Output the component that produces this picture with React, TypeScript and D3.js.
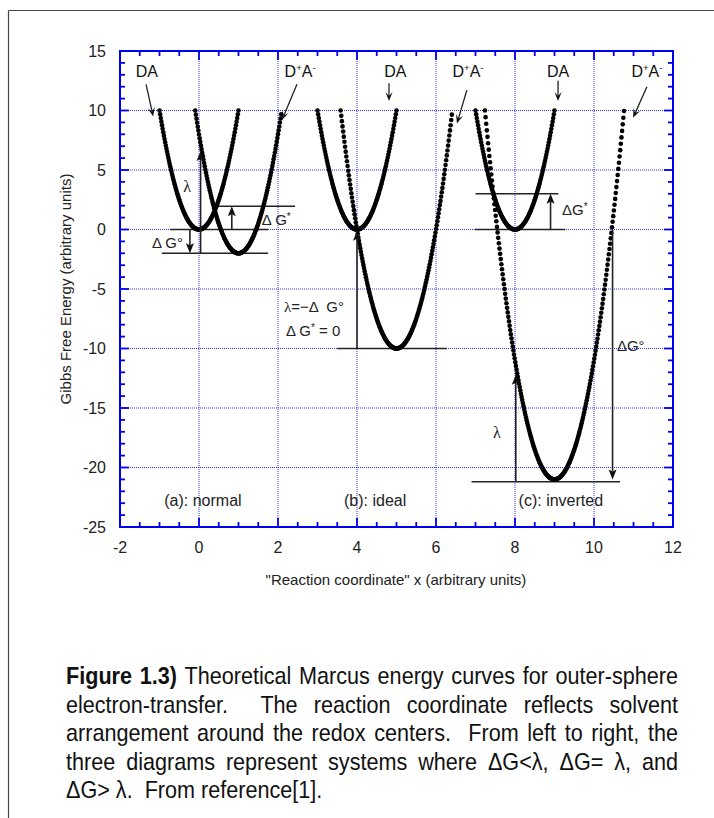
import React from "react";
import * as d3 from "d3";

const W = 714;
const H = 818;

// ---- axis ticks ----
const xTickValues = [-2, 0, 2, 4, 6, 8, 10, 12];
const yTickValues = [-25, -20, -15, -10, -5, 0, 5, 10, 15];
const xGridValues = [0, 2, 4, 6, 8, 10];
const yGridValues = [-20, -15, -10, -5, 0, 5, 10];

// ---- Marcus parabolas: G = lambda * (x - center)^2 + minimum ----
const curveIds = ["a-DA", "a-DpAm", "b-DA", "b-DpAm", "c-DA", "c-DpAm"];
const curveCenters = [0, 1, 4, 5, 8, 9];
const curveMinima = [0, -2, 0, -10, 0, -21];
const reorganization = 10; // lambda
const curveCeiling = 10;
const sampleStep = 0.016;

// ---- curve labels ----
const curveLabelKinds = ["DA", "DpAm", "DA", "DpAm", "DA", "DpAm"];

// ---- annotation values (data coordinates) ----
const levelLines = [
  { y: 0, x1: -0.73, x2: 1.75 },
  { y: -2, x1: -0.94, x2: 1.75 },
  { y: 1.95, x1: 0.4, x2: 2.43 },
  { y: -10, x1: 3.5, x2: 6.27 },
  { y: 3, x1: 7.0, x2: 9.1 },
  { y: 0, x1: 6.99, x2: 9.27 },
  { y: -21.2, x1: 6.9, x2: 10.66 },
];
const energyArrows = [
  { x: 0.04, from: -2, to: 6.6 },
  { x: 0.83, from: 0, to: 1.95 },
  { x: -0.23, from: 0, to: -2 },
  { x: 4, from: -10, to: -0.1 },
  { x: 8.9, from: 0, to: 3 },
  { x: 8.02, from: -21.2, to: -12.2 },
  { x: 10.47, from: 0, to: -21 },
];
const labelArrows = [
  { x1: -1.34, y1: 12.2, x2: -1.16, y2: 9.5 },
  { x1: 2.48, y1: 12.2, x2: 2.1, y2: 9.2 },
  { x1: 4.81, y1: 12.3, x2: 4.81, y2: 10.8 },
  { x1: 6.78, y1: 11.7, x2: 6.53, y2: 8.9 },
  { x1: 9.09, y1: 12.5, x2: 9.09, y2: 10.8 },
  { x1: 11.34, y1: 12.0, x2: 10.99, y2: 9.4 },
];
const curveLabelX = [-1.32, 2.56, 4.97, 6.81, 9.09, 11.34];
const curveLabelY = 13.3;

const panelNames = ["(a): normal", "(b): ideal", "(c): inverted"];
const panelNameX = [0.1, 4.46, 9.16];
const panelNameY = -22.73;

// caption
const captionBold = ["Figure", "1.3)"];
const captionLines = [
  "Figure 1.3) Theoretical Marcus energy curves for outer-sphere",
  "electron-transfer.  The reaction coordinate reflects solvent",
  "arrangement around the redox centers.  From left to right, the",
  "three diagrams represent systems where \u0394G<\u03bb, \u0394G= \u03bb, and",
  "\u0394G> \u03bb.  From reference[1].",
];

const SANS = "'Liberation Sans', Arial, Helvetica, sans-serif";

let _ctx: CanvasRenderingContext2D | null = null;
function measure(text: string, font: string): number {
  if (!_ctx) _ctx = document.createElement("canvas").getContext("2d");
  _ctx!.font = font;
  return _ctx!.measureText(text).width;
}

function arrowHead(x1: number, y1: number, x2: number, y2: number, len: number, hw: number, notch: number) {
  const dx = x2 - x1, dy = y2 - y1;
  const L = Math.hypot(dx, dy) || 1;
  const ux = dx / L, uy = dy / L;
  const nx = -uy, ny = ux;
  const bx = x2 - ux * len, by = y2 - uy * len;
  const kx = x2 - ux * len * notch, ky = y2 - uy * len * notch;
  const d = `M${x2},${y2}L${bx + nx * hw},${by + ny * hw}L${kx},${ky}L${bx - nx * hw},${by - ny * hw}Z`;
  return { d, kx, ky };
}

export default function App() {
  const x = d3.scaleLinear().domain([-2, 12]).range([120, 673]);
  const y = d3.scaleLinear().domain([-25, 15]).range([527, 51]);
  const [L, R] = x.range();
  const [B, T] = y.range();
  const blue = "#0000ee";

  const xMinor = x.ticks(28);
  const yMinor = y.ticks(40);

  const curves = curveIds.map((id, i) => {
    const c = curveCenters[i];
    const m = curveMinima[i];
    const half = Math.sqrt((curveCeiling - m) / reorganization);
    const xs = d3.range(c - half, c + half + 1e-9, sampleStep);
    return { id, pts: xs.map((v) => [v, reorganization * (v - c) * (v - c) + m]) };
  });

  // caption layout (Arial-narrow look: Liberation Sans compressed horizontally)
  const capSize = 24;
  const capScale = 0.9;
  const capLeft = 66;
  const capRight = 678;
  const capTop = 684;
  const capLead = 28.5;
  const capEls: React.ReactNode[] = [];
  captionLines.forEach((line, li) => {
    const parts = line.split(/( +)/).filter((p) => p.length > 0);
    const words = parts.filter((p) => !/^ +$/.test(p));
    const spaceCount = parts.filter((p) => /^ +$/.test(p)).reduce((s, p) => s + p.length, 0);
    const isBold = (w: string, idx: number) => li === 0 && idx < 2 && captionBold.includes(w);
    const widths = words.map((w, idx) => measure(w, `${isBold(w, idx) ? "bold " : ""}${capSize}px ${SANS}`) * capScale);
    const sumW = widths.reduce((a, b) => a + b, 0);
    const justify = li < captionLines.length - 1;
    const spaceW = justify ? (capRight - capLeft - sumW) / spaceCount : measure(" ", `${capSize}px ${SANS}`) * capScale;
    let cx = capLeft;
    let k = 0;
    const yy = capTop + li * capLead;
    parts.forEach((p, pi) => {
      if (/^ +$/.test(p)) {
        cx += spaceW * p.length;
      } else {
        const bold = isBold(p, k);
        capEls.push(
          <text key={`c${li}-${pi}`} transform={`translate(${cx},${yy}) scale(${capScale},1)`} fontSize={capSize} fontWeight={bold ? "bold" : "normal"} fill="#111">
            {p}
          </text>
        );
        cx += widths[k];
        k++;
      }
    });
  });

  const dpam = (fs: number) => [
    <tspan key="d">D</tspan>,
    <tspan key="p" fontSize={fs * 0.6} dy={-fs * 0.38}>+</tspan>,
    <tspan key="a" dy={fs * 0.38}>A</tspan>,
    <tspan key="m" fontSize={fs * 0.6} dy={-fs * 0.38}>-</tspan>,
  ];

  return (
    <svg width={W} height={H} style={{ position: "absolute", left: 0, top: 0, background: "#fff" }} fontFamily={SANS}>
      <rect x={0} y={0} width={W} height={H} fill="#fff" />
      {/* outer frame */}
      <line x1={8.5} y1={10.5} x2={W} y2={10.5} stroke="#444" strokeWidth={1.2} />
      <line x1={8.5} y1={10.5} x2={8.5} y2={H} stroke="#444" strokeWidth={1.2} />

      {/* grid */}
      {xGridValues.map((v) => (
        <line key={`gx${v}`} x1={x(v)} x2={x(v)} y1={T} y2={B} stroke="#3333ff" strokeWidth={1} strokeDasharray="1 1" />
      ))}
      {yGridValues.map((v) => (
        <line key={`gy${v}`} x1={L} x2={R} y1={y(v)} y2={y(v)} stroke="#3333ff" strokeWidth={1} strokeDasharray="1 1" />
      ))}

      {/* ticks */}
      {xMinor.map((v) => {
        const major = xTickValues.includes(v);
        const len = major ? 9 : 5;
        return (
          <g key={`tx${v}`}>
            <line x1={x(v)} x2={x(v)} y1={T} y2={T + len} stroke={blue} strokeWidth={1.8} />
            <line x1={x(v)} x2={x(v)} y1={B} y2={B - len} stroke={blue} strokeWidth={1.8} />
          </g>
        );
      })}
      {yMinor.map((v) => {
        const major = yTickValues.includes(v);
        const len = major ? 9 : 5;
        return (
          <g key={`ty${v}`}>
            <line x1={L} x2={L + len} y1={y(v)} y2={y(v)} stroke={blue} strokeWidth={1.8} />
            <line x1={R} x2={R - len} y1={y(v)} y2={y(v)} stroke={blue} strokeWidth={1.8} />
          </g>
        );
      })}
      <rect x={L} y={T} width={R - L} height={B - T} fill="none" stroke={blue} strokeWidth={2} />

      {/* tick labels */}
      {xTickValues.map((v) => (
        <text key={`lx${v}`} x={x(v)} y={553} textAnchor="middle" fontSize={16} fill="#222">
          {v}
        </text>
      ))}
      {yTickValues.map((v) => (
        <text key={`ly${v}`} x={106} y={y(v) + 5.6} textAnchor="end" fontSize={16} fill="#222">
          {v}
        </text>
      ))}

      {/* axis titles */}
      <text transform={`translate(71,${(T + B) / 2}) rotate(-90)`} textAnchor="middle" fontSize={15} fill="#222">
        Gibbs Free Energy (arbitrary units)
      </text>
      <text x={396} y={585} textAnchor="middle" fontSize={15} fill="#222">
        "Reaction coordinate" x (arbitrary units)
      </text>

      {/* level lines */}
      {levelLines.map((l, i) => (
        <line key={`lv${i}`} x1={x(l.x1)} x2={x(l.x2)} y1={y(l.y)} y2={y(l.y)} stroke="#222" strokeWidth={1.6} />
      ))}

      {/* curves as markers */}
      {curves.map((c) => (
        <g key={c.id}>
          {c.pts.map((p, j) => (
            <circle key={j} cx={x(p[0])} cy={y(p[1])} r={2.3} fill="#000" />
          ))}
        </g>
      ))}

      {/* energy arrows */}
      {energyArrows.map((a, i) => {
        const x1 = x(a.x), y1 = y(a.from), y2 = y(a.to);
        const h = arrowHead(x1, y1, x1, y2, 10, 4, 0.8);
        return (
          <g key={`ea${i}`}>
            <line x1={x1} y1={y1} x2={h.kx} y2={h.ky} stroke="#222" strokeWidth={1.6} />
            <path d={h.d} fill="#111" />
          </g>
        );
      })}

      {/* curve label arrows */}
      {labelArrows.map((a, i) => {
        const x1 = x(a.x1), y1 = y(a.y1), x2 = x(a.x2), y2 = y(a.y2);
        const h = arrowHead(x1, y1, x2, y2, 9, 3.6, 0.55);
        return (
          <g key={`la${i}`}>
            <line x1={x1} y1={y1} x2={h.kx} y2={h.ky} stroke="#222" strokeWidth={1.3} />
            <path d={h.d} fill="#111" />
          </g>
        );
      })}

      {/* curve labels */}
      {curveLabelKinds.map((k, i) => (
        <text key={`cl${i}`} x={x(curveLabelX[i])} y={y(curveLabelY) + 5.8} textAnchor="middle" fontSize={16} fill="#111">
          {k === "DA" ? "DA" : dpam(16)}
        </text>
      ))}

      {/* annotation texts */}
      <text x={x(-0.3)} y={y(3.57) + 5} textAnchor="middle" fontSize={16} fontFamily="'Liberation Serif', 'Times New Roman', serif" fill="#222">λ</text>
      <text x={x(1.59)} y={y(0.88) + 5.5} fontSize={15} fill="#222">
        Δ G<tspan fontSize={10} dy={-5}>*</tspan>
      </text>
      <text x={x(-1.19)} y={y(-1.13) + 5.5} fontSize={15} fill="#222">Δ G°</text>

      <text x={x(2.15)} y={y(-6.51) + 5.5} fontSize={15} fill="#222" style={{ whiteSpace: "pre" }}>
        <tspan fontFamily="'Liberation Serif', serif">λ</tspan>{"=−Δ  G°"}
      </text>
      <text x={x(2.2)} y={y(-8.45) + 5.5} fontSize={15} fill="#222" style={{ whiteSpace: "pre" }}>
        Δ G<tspan fontSize={10} dy={-5}>*</tspan><tspan dy={5}>{" = 0"}</tspan>
      </text>

      <text x={x(9.19)} y={y(1.64) + 5.5} fontSize={15} fill="#222">
        ΔG<tspan fontSize={10} dy={-5}>*</tspan>
      </text>
      <text x={x(7.54)} y={y(-17.1) + 5} textAnchor="middle" fontSize={16} fontFamily="'Liberation Serif', 'Times New Roman', serif" fill="#222">λ</text>
      <text x={x(10.58)} y={y(-9.71) + 5.5} fontSize={15} fill="#222">ΔG°</text>

      {/* panel names */}
      {panelNames.map((p, i) => (
        <text key={`pn${i}`} x={x(panelNameX[i])} y={y(panelNameY) + 5.8} textAnchor="middle" fontSize={16} fill="#222">
          {p}
        </text>
      ))}

      {/* caption */}
      {capEls}
    </svg>
  );
}
